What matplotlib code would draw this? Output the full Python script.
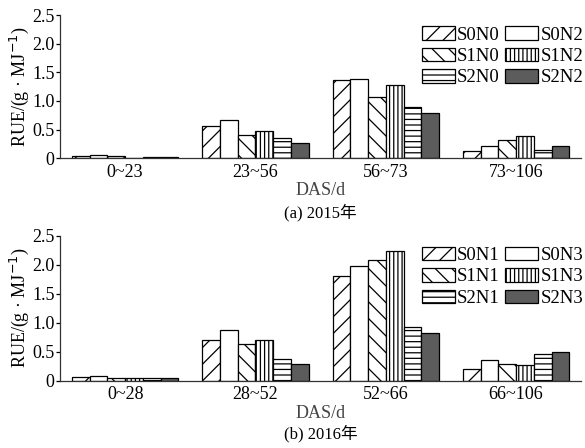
import numpy as np
import matplotlib.pyplot as plt
from matplotlib.patches import Patch

plt.rcParams['font.family'] = ['Liberation Serif', 'Noto Sans CJK SC']
plt.rcParams['hatch.linewidth'] = 0.9

# ---------------------------------------------------------
# RUE data (g/MJ) by growth stage
# ---------------------------------------------------------
stages_2015 = ["0~23", "23~56", "56~73", "73~106"]
labels_2015 = ["S0N0", "S0N2", "S1N0", "S1N2", "S2N0", "S2N2"]
rue_2015 = {
    "S0N0": [0.04, 0.57, 1.36, 0.12],
    "S0N2": [0.06, 0.67, 1.38, 0.22],
    "S1N0": [0.03, 0.41, 1.07, 0.32],
    "S1N2": [0.01, 0.47, 1.28, 0.39],
    "S2N0": [0.02, 0.35, 0.90, 0.15],
    "S2N2": [0.02, 0.27, 0.79, 0.22],
}

stages_2016 = ["0~28", "28~52", "52~66", "66~106"]
labels_2016 = ["S0N1", "S0N3", "S1N1", "S1N3", "S2N1", "S2N3"]
rue_2016 = {
    "S0N1": [0.06, 0.70, 1.81, 0.21],
    "S0N3": [0.09, 0.88, 1.98, 0.36],
    "S1N1": [0.04, 0.64, 2.08, 0.29],
    "S1N3": [0.04, 0.71, 2.24, 0.27],
    "S2N1": [0.05, 0.38, 0.92, 0.46],
    "S2N3": [0.05, 0.29, 0.82, 0.49],
}

# fill / hatch per treatment slot
styles = [
    dict(facecolor="white", hatch="//"),
    dict(facecolor="white", hatch=""),
    dict(facecolor="white", hatch="\\\\"),
    dict(facecolor="white", hatch="||||"),
    dict(facecolor="white", hatch="---"),
    dict(facecolor="#5c5c5c", hatch=""),
]

yticks = [0, 0.5, 1.0, 1.5, 2.0, 2.5]
ytick_labels = ["0", "0.5", "1.0", "1.5", "2.0", "2.5"]

fig = plt.figure(figsize=(5.85, 4.48), dpi=100)
ax_top = fig.add_axes([0.1026, 0.647, 0.891, 0.319])
ax_bot = fig.add_axes([0.1026, 0.150, 0.891, 0.324])


def draw_panel(ax, stages, labels, data, caption, cap_y):
    x = np.arange(len(stages))
    width = 0.136
    handles = []
    for i, name in enumerate(labels):
        offset = (i - 2.5) * width
        ax.bar(x + offset, data[name], width, edgecolor="black",
               linewidth=0.9, **styles[i])
        handles.append(Patch(edgecolor="black", linewidth=0.9,
                             label=name, **styles[i]))

    ax.set_xlim(-0.5, 3.5)
    ax.set_ylim(0, 2.5)
    ax.set_yticks(yticks)
    ax.set_yticklabels(ytick_labels, fontsize=13)
    ax.set_xticks(x)
    ax.set_xticklabels(stages, fontsize=13)
    ax.tick_params(axis="x", length=0, pad=4)
    ax.tick_params(axis="y", length=3, width=0.9, pad=1)
    for side in ("top", "right"):
        ax.spines[side].set_visible(False)
    for side in ("left", "bottom"):
        ax.spines[side].set_linewidth(0.9)
        ax.spines[side].set_color("#333333")

    ax.set_ylabel("RUE/(g \u00b7 MJ$^{-1}$)", fontsize=13, labelpad=1)
    ax.set_xlabel("DAS/d", fontsize=13, labelpad=1, color="#444444")

    # legend: left column S?N low, right column S?N high
    order = [0, 2, 4, 1, 3, 5]
    ax.legend([handles[k] for k in order], [labels[k] for k in order],
              ncol=2, frameon=False, fontsize=13.5, loc="upper right",
              bbox_to_anchor=(1.025, 1.0), handlelength=1.75,
              handleheight=0.72, handletextpad=0.12, columnspacing=0.3,
              labelspacing=0.22, borderaxespad=0.2)

    ax.text(0.5, cap_y, caption, transform=ax.transAxes, ha="center",
            va="center", fontsize=12)


draw_panel(ax_top, stages_2015, labels_2015, rue_2015, "(a) 2015年", -0.378)
draw_panel(ax_bot, stages_2016, labels_2016, rue_2016, "(b) 2016年", -0.366)

fig.savefig("out.png", dpi=100)
